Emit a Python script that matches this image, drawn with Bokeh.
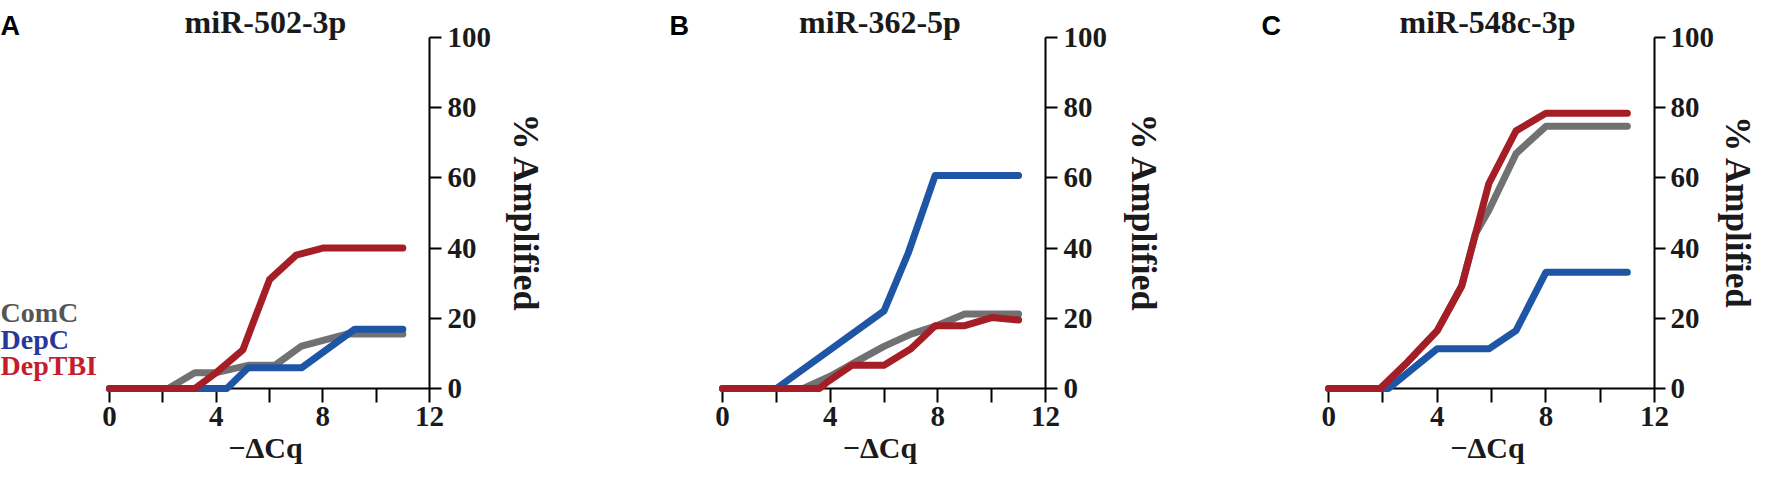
from bokeh.plotting import figure
from bokeh.layouts import row
from bokeh.models import Range1d, LinearAxis, FixedTicker, Label
from bokeh.embed import file_html
from bokeh.resources import INLINE

titles = ["miR-502-3p", "miR-362-5p", "miR-548c-3p"]
letters = ["A", "B", "C"]
groups = ["ComC", "DepC", "DepTBI"]
x_ticks = [0, 4, 8, 12]
x_minor = [2, 6, 10]
y_ticks = [0, 20, 40, 60, 80, 100]

# Panel A: miR-502-3p
a_comc_x = [0, 2.2, 3.2, 4.0, 5.2, 6.2, 7.2, 8.9, 11]
a_comc_y = [0, 0, 4.5, 4.5, 6.6, 6.6, 12.1, 15.5, 15.5]
a_depc_x = [0, 4.4, 5.2, 7.2, 9.2, 11]
a_depc_y = [0, 0, 5.9, 5.9, 16.9, 16.9]
a_deptbi_x = [0, 3.2, 4, 5, 6, 7, 8, 11]
a_deptbi_y = [0, 0, 4.5, 11, 31, 38, 40, 40]

# Panel B: miR-362-5p
b_comc_x = [0, 3, 4, 5, 6, 7, 8, 9, 11]
b_comc_y = [0, 0, 3.5, 7.8, 12, 15.5, 18, 21.2, 21.2]
b_depc_x = [0, 2, 6, 6.9, 7.9, 11]
b_depc_y = [0, 0, 22.1, 38.6, 60.7, 60.7]
b_deptbi_x = [0, 3.6, 3.9, 4.8, 6, 7, 7.9, 9, 10, 11]
b_deptbi_y = [0, 0, 1.9, 6.6, 6.6, 11.3, 17.9, 17.9, 20.2, 19.5]

# Panel C: miR-548c-3p
c_comc_x = [0, 1.9, 2.9, 4, 4.9, 5.4, 5.9, 6.9, 8, 11]
c_comc_y = [0, 0, 7.5, 16.5, 29.2, 44, 50.8, 66.9, 74.7, 74.7]
c_depc_x = [0, 2.2, 4, 5.9, 6.9, 8, 11]
c_depc_y = [0, 0, 11.3, 11.3, 16.5, 33.1, 33.1]
c_deptbi_x = [0, 1.9, 2.9, 4, 4.9, 5.9, 6.9, 8, 11]
c_deptbi_y = [0, 0, 7.5, 16.5, 29.2, 58.4, 73.4, 78.4, 78.4]

line_colors = {"ComC": "#717171", "DepC": "#1f55a5", "DepTBI": "#a51e26"}
legend_colors = {"ComC": "#555555", "DepC": "#26389a", "DepTBI": "#c41e2e"}

SERIF = "Liberation Serif"
SANS = "Liberation Sans"
FRAME_H = 351
TOP = 37
BOTTOM = 86


def side_panel(width, letter, letter_offset, legend=False):
    """Narrow text-only figure holding the panel letter (and the legend)."""
    s = figure(frame_width=width, frame_height=FRAME_H,
               min_border_left=0, min_border_right=0,
               min_border_top=TOP, min_border_bottom=BOTTOM,
               x_range=Range1d(0, width), y_range=Range1d(FRAME_H, 0),
               x_axis_location=None, y_axis_location=None,
               output_backend="svg", toolbar_location=None, title=letter)
    s.outline_line_color = None
    s.grid.visible = False
    s.title.align = "left"
    s.title.offset = letter_offset
    s.title.vertical_align = "top"
    s.title.standoff = -11
    s.title.text_font = SANS
    s.title.text_font_style = "bold"
    s.title.text_font_size = "27px"
    s.title.text_color = "#000000"
    if legend:
        for i, name in enumerate(groups):
            s.add_layout(Label(x=0, y=275 + 26.7 * i, text=name, text_font=SERIF,
                               text_font_style="bold", text_font_size="28px",
                               text_color=legend_colors[name],
                               text_baseline="alphabetic"))
    return s


def main_panel(title, series, fw, right, tick_out=12, lab_standoff=6,
               ylab_size="36px", ylab_standoff=12):
    p = figure(frame_width=fw, frame_height=FRAME_H,
               min_border_left=0, min_border_right=right,
               min_border_top=TOP, min_border_bottom=BOTTOM,
               x_range=Range1d(-0.3, 12), y_range=Range1d(0, 100),
               x_axis_location=None, y_axis_location=None,
               output_backend="svg", toolbar_location=None, title=title)
    p.outline_line_color = None
    p.grid.visible = False
    p.title.align = "center"
    p.title.vertical_align = "top"
    p.title.text_font = SERIF
    p.title.text_font_style = "bold"
    p.title.text_font_size = "32px"
    p.title.text_color = "#1a1a1a"
    p.title.standoff = -9

    xax = LinearAxis(ticker=FixedTicker(ticks=x_ticks, minor_ticks=x_minor),
                     bounds=(0, 12), axis_label="\u2212\u0394Cq")
    yax = LinearAxis(ticker=FixedTicker(ticks=y_ticks, minor_ticks=[]),
                     bounds=(0, 100), axis_label="% Amplified")
    for ax in (xax, yax):
        ax.axis_line_width = 2
        ax.major_tick_line_width = 2
        ax.minor_tick_line_width = 2
        ax.major_tick_in = 0
        ax.minor_tick_in = 0
        ax.major_label_text_font = SERIF
        ax.major_label_text_font_style = "bold"
        ax.major_label_text_font_size = "29px"
        ax.major_label_text_color = "#1a1a1a"
        ax.axis_label_text_font = SERIF
        ax.axis_label_text_font_style = "bold"
        ax.axis_label_text_color = "#1a1a1a"
    xax.major_tick_out = 14
    xax.minor_tick_out = 14
    xax.major_label_standoff = 4
    xax.axis_label_standoff = 2
    xax.axis_label_text_font_size = "30px"
    yax.major_tick_out = tick_out
    yax.minor_tick_out = 0
    yax.major_label_standoff = lab_standoff
    yax.axis_label_standoff = ylab_standoff
    yax.axis_label_text_font_size = ylab_size
    p.add_layout(xax, "below")
    p.add_layout(yax, "right")

    for name, (xs, ys) in series.items():
        p.line(xs, ys, line_color=line_colors[name], line_width=7,
               line_cap="round", line_join="round", level="overlay")
    return p


sa = side_panel(101, letters[0], 0, legend=True)
pa = main_panel(titles[0],
                {"ComC": (a_comc_x, a_comc_y), "DepC": (a_depc_x, a_depc_y),
                 "DepTBI": (a_deptbi_x, a_deptbi_y)}, 328, 153)
sb = side_panel(132, letters[1], 87)
pb = main_panel(titles[1],
                {"ComC": (b_comc_x, b_comc_y), "DepC": (b_depc_x, b_depc_y),
                 "DepTBI": (b_deptbi_x, b_deptbi_y)}, 331, 137, ylab_standoff=14)
sc = side_panel(138, letters[2], 79)
pc = main_panel(titles[2],
                {"ComC": (c_comc_x, c_comc_y), "DepC": (c_depc_x, c_depc_y),
                 "DepTBI": (c_deptbi_x, c_deptbi_y)}, 334, 100,
                tick_out=11, lab_standoff=5, ylab_size="35px", ylab_standoff=1)

layout = row(sa, pa, sb, pb, sc, pc, spacing=0)
open("out.html", "w").write(file_html(layout, INLINE))
